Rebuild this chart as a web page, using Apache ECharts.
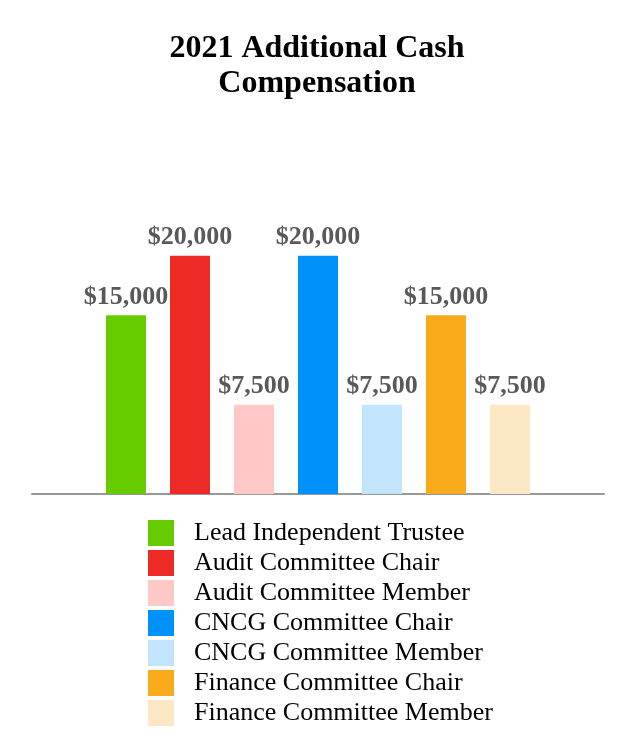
<!DOCTYPE html>
<html>
<head>
<meta charset="utf-8">
<script src="https://cdn.jsdelivr.net/npm/echarts@6/dist/echarts.min.js"></script>
<style>html,body{margin:0;padding:0;background:#fff}#c{width:634px;height:756px}</style>
</head>
<body>
<div id="c"></div>
<script>
const titleText = "2021 Additional Cash\nCompensation";
const seriesNames = ["Lead Independent Trustee","Audit Committee Chair","Audit Committee Member","CNCG Committee Chair","CNCG Committee Member","Finance Committee Chair","Finance Committee Member"];
const seriesValues = [15000, 20000, 7500, 20000, 7500, 15000, 7500];
const seriesColors = ["#66cc00","#ee2a26","#ffc9c7","#0092fb","#c2e4fd","#f9ab1c","#fde8c5"];
const categories = ["2021"];

const serif = "'Liberation Serif','Times New Roman',serif";
const chart = echarts.init(document.getElementById('c'));
chart.setOption({
  animation: false,
  title: {
    text: titleText, left: 'center', top: 26,
    textStyle: {fontFamily: serif, fontWeight: 'bold', fontSize: 32, lineHeight: 35, color: '#000'}
  },
  grid: {left: 32, right: 30, top: 208, bottom: 262},
  xAxis: {
    type: 'category', data: categories,
    axisLine: {lineStyle: {color: '#999', width: 2}},
    axisTick: {show: false}, axisLabel: {show: false}
  },
  yAxis: {type: 'value', min: 0, max: 24000, show: false, splitLine: {show: false}},
  legend: {
    orient: 'vertical', left: 143, top: 512,
    itemWidth: 26, itemHeight: 26, itemGap: -2,
    icon: 'rect',
    textStyle: {fontFamily: serif, fontSize: 26, lineHeight: 26, color: '#000', padding: [6,0,0,15]},
    data: seriesNames
  },
  series: seriesNames.map((n, i) => ({
    name: n, type: 'bar', data: [seriesValues[i]],
    barWidth: 40, barGap: '60%',
    itemStyle: {color: seriesColors[i]},
    label: {
      show: true, position: 'top', distance: 5,
      formatter: p => '$' + p.value.toLocaleString('en-US'),
      fontFamily: serif, fontWeight: 'bold', fontSize: 26, color: '#595959'
    }
  }))
});
</script>
</body>
</html>
